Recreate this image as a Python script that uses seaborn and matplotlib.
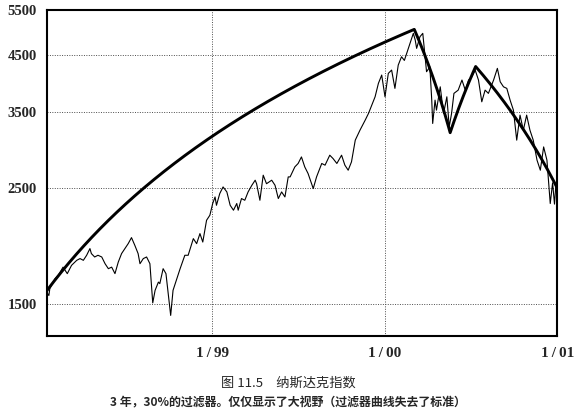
import numpy as np
import pandas as pd
import matplotlib
matplotlib.use('Agg')
import matplotlib.pyplot as plt
import matplotlib.ticker as mticker
import seaborn as sns

base = pd.Timestamp('1999-01-01')

# index level; day offsets counted from 1/1/99
days = [-350, -346, -344, -333, -326, -316, -307, -298, -287, -280, -273, -266,
        -259, -256, -249, -242, -234, -227, -220, -213, -206, -199, -192, -185,
        -178, -171, -164, -157, -153, -146, -139, -132, -126, -121, -114, -111,
        -104, -98, -91, -88, -83, -75, -68, -58, -51, -40, -33, -26, -20, -12,
        -5, 1, 6, 9, 16, 23, 31, 38, 45, 52, 55, 62, 69, 76, 84, 91, 94, 101,
        108, 115, 126, 133, 140, 147, 154, 161, 165, 175, 182, 189, 196, 203,
        214, 221, 232, 239, 249, 256, 264, 274, 281, 288, 295, 303, 313, 324,
        331, 338, 345, 352, 359, 366, 373, 380, 387, 394, 401, 407, 412, 419,
        426, 430, 433, 440, 446, 451, 454, 461, 465, 467, 472, 475, 483, 490,
        497, 502, 507, 512, 521, 529, 536, 543, 550, 557, 564, 571, 578, 585,
        596, 604, 610, 617, 624, 631, 638, 645, 652, 659, 666, 673, 680, 688,
        695, 702, 709, 716, 721, 725, 728, 731]
nasdaq = [1575, 1555, 1603, 1675, 1700, 1763, 1713, 1777, 1817, 1831, 1817, 1858,
          1914, 1872, 1844, 1858, 1844, 1790, 1751, 1763, 1713, 1803, 1872, 1914,
          1956, 2009, 1942, 1872, 1790, 1831, 1844, 1790, 1505, 1591, 1650, 1639,
          1751, 1713, 1505, 1424, 1591, 1675, 1751, 1858, 1858, 2000, 1956, 2045,
          1970, 2169, 2218, 2336, 2405, 2318, 2442, 2514, 2459, 2318, 2268, 2336,
          2268, 2388, 2370, 2459, 2533, 2590, 2550, 2370, 2648, 2550, 2590, 2533,
          2388, 2459, 2405, 2628, 2628, 2747, 2789, 2871, 2747, 2668, 2496, 2628,
          2789, 2768, 2893, 2850, 2789, 2893, 2768, 2707, 2809, 3092, 3232, 3378,
          3480, 3610, 3746, 3975, 4124, 3746, 4155, 4216, 3888, 4310, 4472, 4400,
          4540, 4746, 4960, 4815, 4641, 4886, 4960, 4472, 4185, 4278, 3691, 3329,
          3691, 3531, 3915, 3480, 3746, 3280, 3480, 3803, 3858, 4034, 3858, 4034,
          4093, 4216, 4034, 3664, 3858, 3803, 4034, 4248, 4003, 3915, 3888, 3691,
          3531, 3092, 3454, 3232, 3454, 3232, 3092, 2830, 2707, 3001, 2830, 2336,
          2560, 2330, 2540, 2420]

# turning points of the 30% filter
filter_days = [-350, 428, 504, 558, 731]
filter_vals = [1590, 5048, 3196, 4283, 2500]

ytick_vals = [1500, 2500, 3500, 4500, 5500]
xtick_dates = ['1999-01-01', '2000-01-01', '2001-01-01']
xtick_labels = ['1\u2009/\u200999', '1\u2009/\u200900', '1\u2009/\u200901']

caption_title = '图 11.5　纳斯达克指数'
caption_note = '3 年，30%的过滤器。仅仅显示了大视野（过滤器曲线失去了标准）'

sns.set_style('white')
plt.rcParams['font.family'] = ['Liberation Serif', 'Noto Sans CJK SC', 'DejaVu Sans']

fig = plt.figure(figsize=(5.8, 4.11), dpi=100)
ax = fig.add_axes([0.0802, 0.1825, 0.8807, 0.7932])

df = pd.DataFrame({'date': base + pd.to_timedelta(days, unit='D'), 'level': nasdaq})
sns.lineplot(data=df, x='date', y='level', ax=ax, color='black', lw=0.8,
             estimator=None, sort=False)

# straight segments in price space bend on a log axis, so sample them daily
d = np.arange(filter_days[0], filter_days[-1] + 1)
fl = pd.DataFrame({'date': base + pd.to_timedelta(d, unit='D'),
                   'level': np.interp(d, filter_days, filter_vals)})
sns.lineplot(data=fl, x='date', y='level', ax=ax, color='black', lw=2.1,
             estimator=None, sort=False)

ax.set_yscale('log')
ax.set_ylim(1300, 5500)
ax.yaxis.set_major_locator(mticker.FixedLocator(ytick_vals))
ax.yaxis.set_minor_locator(mticker.NullLocator())
ax.yaxis.set_major_formatter(mticker.FuncFormatter(lambda v, p: f'{v:.0f}'))

ax.set_xlim(pd.Timestamp('1998-01-15'), pd.Timestamp('2001-01-01'))
ax.set_xticks(pd.to_datetime(xtick_dates))
ax.set_xticklabels(xtick_labels)

ax.set_xlabel('')
ax.set_ylabel('')
ax.grid(True, color='0.3', linestyle=(0, (1, 1.5)), linewidth=0.7)
for s in ax.spines.values():
    s.set_linewidth(1.5)
    s.set_color('black')

ax.tick_params(axis='x', direction='in', length=4, width=1, pad=8, labelsize=11)
ax.tick_params(axis='y', length=0, pad=7, labelsize=10.5)
for lab in ax.get_xticklabels() + ax.get_yticklabels():
    lab.set_fontweight('bold')

fig.text(0.497, 1 - 383 / 411, caption_title, ha='center', va='center',
         fontsize=9.5, family=['Noto Sans CJK SC', 'DejaVu Sans'])
fig.text(0.497, 1 - 403 / 411, caption_note, ha='center', va='center',
         fontsize=8.6, fontweight='bold', family=['Noto Sans CJK SC', 'DejaVu Sans'])

fig.savefig('out.png', dpi=100)
